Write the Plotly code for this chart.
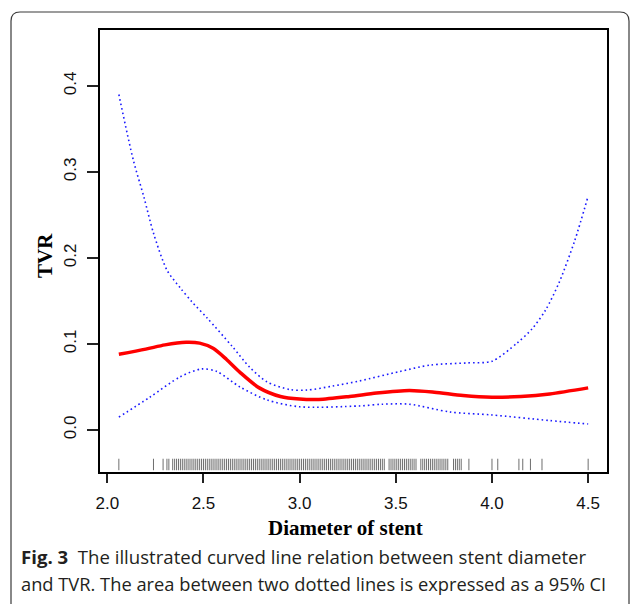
import plotly.graph_objects as go

# ---- data ----
fit_x = [2.06, 2.20, 2.30, 2.41, 2.48, 2.55, 2.62, 2.69, 2.79, 2.90, 3.00, 3.10, 3.26, 3.40, 3.57, 3.70, 3.85, 4.00, 4.15, 4.30, 4.50]
fit_y = [0.088, 0.094, 0.099, 0.102, 0.101, 0.095, 0.082, 0.067, 0.049, 0.039, 0.036, 0.0355, 0.039, 0.043, 0.046, 0.044, 0.040, 0.038, 0.039, 0.042, 0.049]

upper_x = [2.06, 2.135, 2.19, 2.24, 2.31, 2.38, 2.44, 2.52, 2.65, 2.74, 2.83, 2.95, 3.04, 3.17, 3.31, 3.52, 3.68, 3.87, 4.00, 4.13, 4.21, 4.28, 4.35, 4.43, 4.50]
upper_y = [0.390, 0.314, 0.271, 0.229, 0.186, 0.165, 0.149, 0.130, 0.097, 0.073, 0.056, 0.047, 0.0465, 0.051, 0.057, 0.068, 0.0755, 0.078, 0.080, 0.101, 0.118, 0.140, 0.172, 0.220, 0.272]

lower_x = [2.06, 2.22, 2.38, 2.49, 2.57, 2.69, 2.83, 3.00, 3.31, 3.43, 3.57, 3.78, 4.00, 4.30, 4.50]
lower_y = [0.015, 0.038, 0.062, 0.071, 0.068, 0.050, 0.035, 0.027, 0.028, 0.030, 0.030, 0.021, 0.0175, 0.011, 0.007]

rug_x = [2.06, 2.24, 2.29, 2.31, 2.32,
         2.34, 2.35, 2.36, 2.37, 2.38, 2.39, 2.40, 2.41, 2.42, 2.43, 2.44, 2.45, 2.46, 2.47, 2.48, 2.49,
         2.50, 2.51, 2.52, 2.53, 2.54, 2.55, 2.56, 2.57, 2.58, 2.59, 2.60, 2.61, 2.62, 2.63, 2.64, 2.65,
         2.66, 2.67, 2.68, 2.69, 2.70, 2.71, 2.72, 2.73, 2.74, 2.75, 2.76, 2.77, 2.78, 2.79, 2.80, 2.81,
         2.82, 2.83, 2.84, 2.85, 2.86, 2.87, 2.88, 2.89, 2.90, 2.91, 2.92, 2.93, 2.94, 2.95, 2.96, 2.97,
         2.98, 2.99, 3.00, 3.01, 3.02, 3.03, 3.04, 3.05, 3.06, 3.07, 3.08, 3.09, 3.10, 3.11, 3.12, 3.13,
         3.14, 3.15, 3.16, 3.17, 3.18, 3.19, 3.20, 3.21, 3.22, 3.23, 3.24, 3.25, 3.26, 3.27, 3.28, 3.29,
         3.30, 3.31, 3.32, 3.33, 3.34, 3.35, 3.36, 3.37, 3.38, 3.39, 3.40, 3.41, 3.42, 3.43, 3.44,
         3.465, 3.475, 3.485, 3.495, 3.505, 3.515, 3.525, 3.535, 3.545, 3.555, 3.565, 3.575, 3.585, 3.595, 3.605,
         3.63, 3.64, 3.65, 3.66, 3.67, 3.68, 3.69, 3.70, 3.71, 3.72, 3.73, 3.74, 3.75, 3.76, 3.77,
         3.80, 3.81, 3.82, 3.83, 3.84,
         3.88, 4.00, 4.03, 4.14, 4.16, 4.20, 4.26, 4.50]

x_ticks = [2.0, 2.5, 3.0, 3.5, 4.0, 4.5]
y_ticks = [0.0, 0.1, 0.2, 0.3, 0.4]

# ---- layout geometry (pixels) ----
W, H = 630, 604
L, R, T, B = 100, 607, 30, 472


def px(p):
    return (p - L) / (R - L)


def py(p):
    return (B - p) / (B - T)


fig = go.Figure()
fig.add_trace(go.Scatter(x=upper_x, y=upper_y, mode="lines",
                         line=dict(color="#1a1aff", width=1.6, dash="1.6px,3px", shape="spline", smoothing=0.8),
                         hoverinfo="skip"))
fig.add_trace(go.Scatter(x=lower_x, y=lower_y, mode="lines",
                         line=dict(color="#1a1aff", width=1.6, dash="1.6px,3px", shape="spline", smoothing=0.8),
                         hoverinfo="skip"))
fig.add_trace(go.Scatter(x=fit_x, y=fit_y, mode="lines",
                         line=dict(color="#ff0000", width=3.5, shape="spline", smoothing=0.8),
                         hoverinfo="skip"))

shapes = []
for xv in rug_x:
    shapes.append(dict(type="line", xref="x", yref="paper", x0=xv, x1=xv, y0=0.004, y1=0.03,
                       line=dict(color="#6e6e6e", width=1)))

# outer rounded frame
fx0, fy0, fx1, fy1, rr = 11, 12, 629, 610, 9
path = (f"M {px(fx0)},{py(fy1)} L {px(fx0)},{py(fy0 + rr)} "
        f"Q {px(fx0)},{py(fy0)} {px(fx0 + rr)},{py(fy0)} "
        f"L {px(fx1 - rr)},{py(fy0)} Q {px(fx1)},{py(fy0)} {px(fx1)},{py(fy0 + rr)} "
        f"L {px(fx1)},{py(fy1)}")
shapes.append(dict(type="path", xref="paper", yref="paper", path=path,
                   line=dict(color="#3a3a3a", width=1.2), layer="above"))

annotations = [
    dict(text="<b>Diameter of stent</b>", x=px(345), y=py(528), xref="paper", yref="paper",
         showarrow=False, xanchor="center", yanchor="middle",
         font=dict(family="Liberation Serif", size=21, color="black")),
    dict(text="<b>TVR</b>", x=px(45), y=py(256), xref="paper", yref="paper",
         showarrow=False, xanchor="center", yanchor="middle", textangle=-90,
         font=dict(family="Liberation Serif", size=21, color="black")),
    dict(text="<b>Fig. 3</b>  The illustrated curved line relation between stent diameter",
         x=px(19), y=py(556), xref="paper", yref="paper", showarrow=False,
         xanchor="left", yanchor="middle",
         font=dict(family="Open Sans", size=18.6, color="#231f20")),
    dict(text="and TVR. The area between two dotted lines is expressed as a 95% CI",
         x=px(19), y=py(583), xref="paper", yref="paper", showarrow=False,
         xanchor="left", yanchor="middle",
         font=dict(family="Open Sans", size=18.3, color="#231f20")),
]

fig.update_layout(
    width=W, height=H,
    margin=dict(l=L, r=W - R, t=T, b=H - B),
    paper_bgcolor="white", plot_bgcolor="white",
    showlegend=False,
    shapes=shapes,
    annotations=annotations,
    font=dict(family="Liberation Sans", color="black"),
)
fig.update_xaxes(range=[1.962, 4.598], tickvals=x_ticks, ticktext=[f"{v:.1f}" for v in x_ticks],
                 showgrid=False, zeroline=False, showline=True, mirror=True, linecolor="black", linewidth=2,
                 ticks="outside", ticklen=9, tickwidth=1.8, tickcolor="#222",
                 tickfont=dict(family="Liberation Sans", size=17, color="#111"), ticklabelstandoff=6)
fig.update_yaxes(range=[-0.0488, 0.465], tickvals=y_ticks, ticktext=[f"{v:.1f}" for v in y_ticks],
                 showgrid=False, zeroline=False, showline=True, mirror=True, linecolor="black", linewidth=2,
                 ticks="outside", ticklen=11, tickwidth=1.8, tickcolor="#222", tickangle=-90,
                 tickfont=dict(family="Liberation Sans", size=17, color="#111"), ticklabelstandoff=4)

fig.write_html("out.html", config={"displayModeBar": False},
               post_script="document.body.style.margin='0';")
